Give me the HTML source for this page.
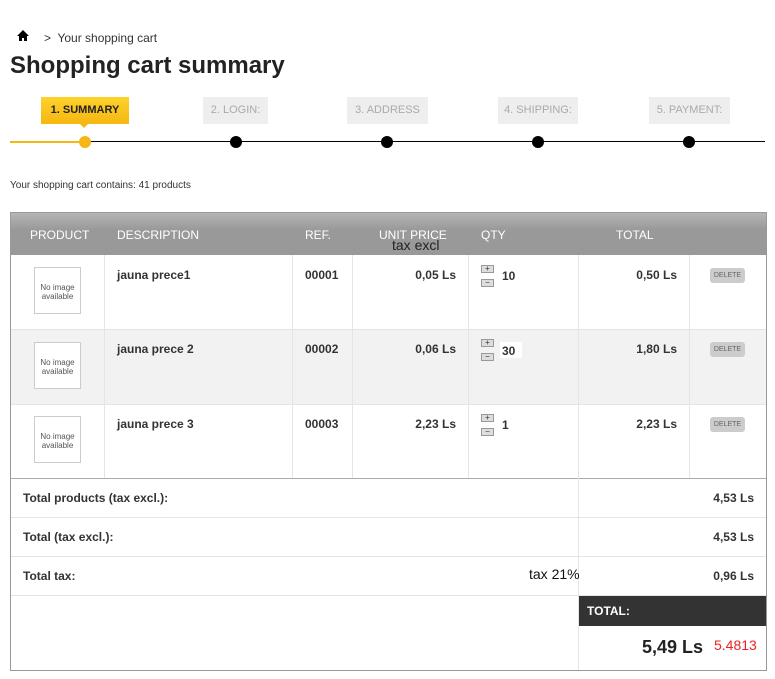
<!DOCTYPE html>
<html><head><meta charset="utf-8"><style>
*{margin:0;padding:0;box-sizing:border-box}
body{width:775px;height:679px;background:#fff;font-family:"Liberation Sans",Arial,sans-serif;color:#333;position:relative;overflow:hidden}
.a{position:absolute;white-space:nowrap}
.b{font-weight:bold;font-size:12px;color:#333}
.vl{position:absolute;width:1px;background:#e5e5e5}
.hl{position:absolute;height:1px;background:#e5e5e5}
.step{position:absolute;top:97px;height:27px;background:#eee;color:#aaa;font-size:11px;line-height:27px;text-align:center}
.dot{position:absolute;top:136px;width:12px;height:12px;border-radius:50%;background:#000}
.img{position:absolute;width:47px;height:47px;border:1px solid #ccc;font-size:8px;color:#555;text-align:center;padding-top:15px;line-height:9px;background:#fff}
.del{position:absolute;width:35px;height:15px;background:#ccc;border-radius:3px;font-size:7px;color:#666;text-align:center;line-height:15px}
.pm{position:absolute;width:13px;height:8px;background:#ddd;border:1px solid #999;font-size:8px;line-height:6px;text-align:center;color:#333}
.hd{position:absolute;top:228px;color:#fff;font-size:12px;text-transform:uppercase}
</style></head><body>
<svg class="a" style="left:17px;top:30px" width="12" height="11" viewBox="0 0 12 11"><path d="M6 0L0 6h2v5h3V8h2v3h3V6h2z" fill="#000"/></svg>
<div class="a" style="left:44px;top:31px;font-size:12px;color:#333">&gt;&nbsp; Your shopping cart</div>
<div class="a" style="left:10px;top:52px;font-size:24px;font-weight:bold;color:#222">Shopping cart summary</div>

<div class="step" style="left:41px;width:88px;background:linear-gradient(#fdd22b,#f6b712);color:#222;font-weight:bold">1. SUMMARY</div>
<div class="a" style="left:80px;top:124px;width:0;height:0;border-left:4px solid transparent;border-right:4px solid transparent;border-top:4px solid #f6b712"></div>
<div class="step" style="left:203px;width:65px">2. LOGIN:</div>
<div class="step" style="left:347px;width:81px">3. ADDRESS</div>
<div class="step" style="left:498px;width:80px">4. SHIPPING:</div>
<div class="step" style="left:649px;width:81px">5. PAYMENT:</div>
<div class="a" style="left:10px;top:141px;width:75px;height:2px;background:#f6b712"></div>
<div class="a" style="left:85px;top:141px;width:680px;height:1px;background:#000"></div>
<div class="dot" style="left:79px;background:#f6b712"></div>
<div class="dot" style="left:230px"></div>
<div class="dot" style="left:381px"></div>
<div class="dot" style="left:532px"></div>
<div class="dot" style="left:683px"></div>

<div class="a" style="left:10px;top:180px;font-size:10px;color:#333">Your shopping cart contains: 41 products</div>

<div class="a" style="left:10px;top:212px;width:757px;height:459px;border:1px solid #999"></div>
<div class="a" style="left:11px;top:213px;width:755px;height:42px;background:linear-gradient(#b5b5b5,#999 40%,#999)"></div>
<div class="hd" style="left:30px">Product</div>
<div class="hd" style="left:117px">Description</div>
<div class="hd" style="left:305px">Ref.</div>
<div class="hd" style="left:379px">Unit price</div>
<div class="a" style="left:392px;top:237px;font-size:14px;color:#222">tax excl</div>
<div class="hd" style="left:481px">Qty</div>
<div class="hd" style="left:616px">Total</div>

<div class="a" style="left:11px;top:330px;width:755px;height:74px;background:#f2f2f2"></div>
<div class="hl" style="left:11px;top:329px;width:755px"></div>
<div class="hl" style="left:11px;top:404px;width:755px"></div>
<div class="a" style="left:11px;top:478px;width:755px;height:1px;background:#aaa"></div>
<div class="vl" style="left:104px;top:255px;height:223px"></div>
<div class="vl" style="left:292px;top:255px;height:223px"></div>
<div class="vl" style="left:352px;top:255px;height:223px"></div>
<div class="vl" style="left:468px;top:255px;height:223px"></div>
<div class="vl" style="left:578px;top:255px;height:415px"></div>
<div class="vl" style="left:689px;top:255px;height:223px"></div>
<div class="hl" style="left:11px;top:517px;width:755px"></div>
<div class="hl" style="left:11px;top:556px;width:755px"></div>
<div class="hl" style="left:11px;top:595px;width:755px"></div>

<div class="img" style="left:34px;top:267px">No image<br>available</div>
<div class="img" style="left:34px;top:342px">No image<br>available</div>
<div class="img" style="left:34px;top:416px">No image<br>available</div>

<div class="a b" style="left:117px;top:268px">jauna prece1</div>
<div class="a b" style="left:117px;top:342px">jauna prece 2</div>
<div class="a b" style="left:117px;top:417px">jauna prece 3</div>
<div class="a b" style="left:305px;top:268px">00001</div>
<div class="a b" style="left:305px;top:342px">00002</div>
<div class="a b" style="left:305px;top:417px">00003</div>
<div class="a b" style="right:319px;top:268px">0,05 Ls</div>
<div class="a b" style="right:319px;top:342px">0,06 Ls</div>
<div class="a b" style="right:319px;top:417px">2,23 Ls</div>
<div class="a b" style="right:98px;top:268px">0,50 Ls</div>
<div class="a b" style="right:98px;top:342px">1,80 Ls</div>
<div class="a b" style="right:98px;top:417px">2,23 Ls</div>

<div class="pm" style="left:481px;top:265px">+</div><div class="pm" style="left:481px;top:279px">−</div>
<div class="pm" style="left:481px;top:339px">+</div><div class="pm" style="left:481px;top:353px">−</div>
<div class="pm" style="left:481px;top:414px">+</div><div class="pm" style="left:481px;top:428px">−</div>
<div class="a b" style="left:502px;top:269px">10</div>
<div class="a" style="left:500px;top:342px;width:22px;height:16px;background:#fff"></div>
<div class="a b" style="left:502px;top:344px">30</div>
<div class="a b" style="left:502px;top:418px">1</div>

<div class="del" style="left:710px;top:268px">DELETE</div>
<div class="del" style="left:710px;top:342px">DELETE</div>
<div class="del" style="left:710px;top:417px">DELETE</div>

<div class="a b" style="left:23px;top:491px">Total products (tax excl.):</div>
<div class="a b" style="left:23px;top:530px">Total (tax excl.):</div>
<div class="a b" style="left:23px;top:569px">Total tax:</div>
<div class="a b" style="right:21px;top:491px">4,53 Ls</div>
<div class="a b" style="right:21px;top:530px">4,53 Ls</div>
<div class="a b" style="right:21px;top:569px">0,96 Ls</div>
<div class="a" style="left:529px;top:566px;font-size:14px;color:#111">tax 21%</div>

<div class="a" style="left:579px;top:596px;width:187px;height:30px;background:#333;color:#fff;font-size:12px;font-weight:bold;line-height:30px;padding-left:8px">TOTAL:</div>
<div class="a" style="left:642px;top:637px;font-size:18px;font-weight:bold;color:#222">5,49 Ls</div>
<div class="a" style="left:714px;top:637px;font-size:14px;color:#e22">5.4813</div>
</body></html>
